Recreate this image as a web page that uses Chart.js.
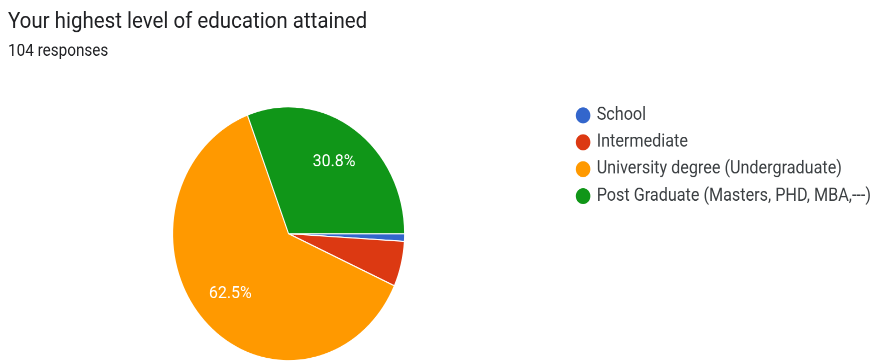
<!DOCTYPE html>
<html>
<head>
<meta charset="utf-8">
<script src="https://cdn.jsdelivr.net/npm/chart.js@4.4.1/dist/chart.umd.min.js"></script>
<style>
  html, body { margin: 0; padding: 0; background: #ffffff; }
  body { width: 872px; height: 362px; overflow: hidden; }
  #clip { width: 872px; height: 331px; overflow: hidden; transform: scaleY(1.094); transform-origin: 0 0; }
  #wrap { width: 872px; height: 341px; }
</style>
</head>
<body>
<div id="clip"><div id="wrap"><canvas id="c" width="872" height="341"></canvas></div></div>
<script>
const titleText = 'Your highest level of education attained';
const subtitleText = '104 responses';
const categories = ['School', 'Intermediate', 'University degree (Undergraduate)', 'Post Graduate (Masters, PHD, MBA,---)'];
const responses = [1, 6, 65, 32];
const sliceColors = ['#3366cc', '#dc3912', '#ff9900', '#109618'];

const pctLabels = {
  id: 'pctLabels',
  afterDatasetsDraw(chart) {
    const ctx = chart.ctx;
    const data = chart.data.datasets[0].data;
    const total = data.reduce((a, b) => a + b, 0);
    const meta = chart.getDatasetMeta(0);
    ctx.save();
    ctx.fillStyle = '#ffffff';
    ctx.font = '16px Roboto';
    ctx.textAlign = 'center';
    ctx.textBaseline = 'middle';
    meta.data.forEach((arc, i) => {
      const pct = data[i] / total * 100;
      if (pct < 10) return;
      const p = arc.getProps(['x', 'y', 'startAngle', 'endAngle', 'outerRadius'], true);
      const a = (p.startAngle + p.endAngle) / 2;
      const r = p.outerRadius * 0.69;
      ctx.fillText(pct.toFixed(1) + '%', p.x + Math.cos(a) * r, p.y + Math.sin(a) * r);
    });
    ctx.restore();
  }
};

new Chart(document.getElementById('c'), {
  type: 'pie',
  data: {
    labels: categories,
    datasets: [{
      data: responses,
      backgroundColor: sliceColors,
      borderColor: '#ffffff',
      borderWidth: 1,
      radius: 116
    }]
  },
  options: {
    responsive: false,
    devicePixelRatio: 2,
    animation: false,
    rotation: 90,
    layout: { padding: { left: 8, right: -9, top: 0, bottom: 2.7 } },
    plugins: {
      title: {
        display: true,
        text: titleText,
        align: 'start',
        color: '#202124',
        font: { family: 'Roboto', size: 20.5, weight: 'normal' },
        padding: { top: 8, bottom: 5.5 }
      },
      subtitle: {
        display: true,
        text: subtitleText,
        align: 'start',
        color: '#202124',
        font: { family: 'Roboto', size: 15.3, weight: 'normal' },
        padding: { top: 0, bottom: 32.5 }
      },
      legend: {
        position: 'right',
        align: 'start',
        fullSize: false,
        labels: {
          usePointStyle: true,
          pointStyle: 'circle',
          boxWidth: 11,
          boxHeight: 11,
          padding: 8.4,
          color: '#3c4043',
          font: { family: 'Roboto', size: 16.2 }
        }
      },
      tooltip: { enabled: false }
    }
  },
  plugins: [pctLabels]
});
</script>
</body>
</html>
